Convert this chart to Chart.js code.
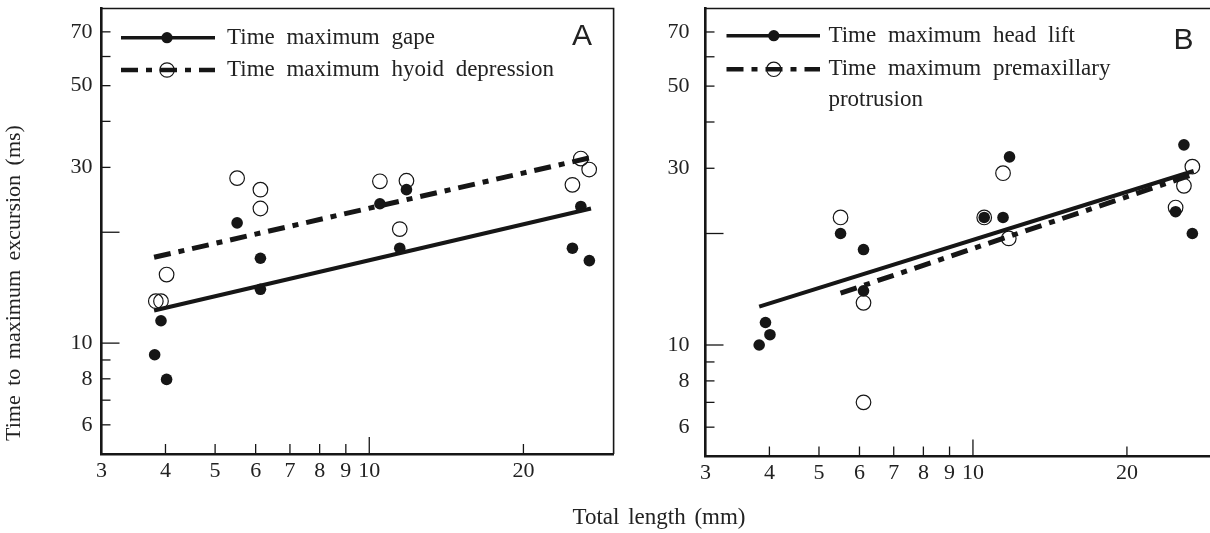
<!DOCTYPE html>
<html>
<head>
<meta charset="utf-8">
<script src="https://cdn.jsdelivr.net/npm/chart.js@4.4.1/dist/chart.umd.min.js"></script>
<style>
  html, body { margin: 0; padding: 0; background: #fff; overflow: hidden; }
  body { width: 1210px; height: 533px; position: relative; }
  canvas { position: absolute; top: 0; }
  #panelA { left: 0; }
  #panelB { left: 640px; }
  #xTitle {
    position: absolute; left: 0; width: 1318px; top: 505px;
    text-align: center; font: 23px "Liberation Serif", serif; line-height: 23px;
    color: #222; word-spacing: 3px;
  }
</style>
</head>
<body>
<canvas id="panelA" width="640" height="533"></canvas>
<canvas id="panelB" width="640" height="533"></canvas>
<div id="xTitle">Total length (mm)</div>
<script>
// ── Données ────────────────────────────────────────────────────────────────

// Panel A : gape (points pleins) et hyoid depression (cercles vides)
const lengthGapeA  = [3.81, 3.92, 4.02, 5.52, 6.13, 6.13, 10.49, 11.47, 11.82, 24.93, 25.89, 26.9];
const gapeA        = [9.3, 11.5, 7.97, 21.2, 17.0, 14.0, 23.9, 18.1, 26.1, 18.1, 23.5, 16.75];
const lengthHyoidA = [3.83, 3.92, 4.02, 5.52, 6.13, 6.13, 10.49, 11.47, 11.82, 24.93, 25.89, 26.88];
const hyoidA       = [13.0, 13.0, 15.35, 28.05, 26.1, 23.2, 27.5, 20.4, 27.6, 26.9, 31.7, 29.6];
const fitLengthA   = [3.80, 27.1];
const gapeFitA     = [12.26, 23.2];
const hyoidFitA    = [17.1, 31.9];

// Panel B : head lift (pleins) et premaxillary protrusion (vides)
const lengthLiftB   = [3.82, 3.93, 4.01, 5.51, 6.11, 6.11, 10.52, 11.45, 11.79, 24.9, 25.85, 26.85];
const liftB         = [10.0, 11.5, 10.66, 20.0, 18.1, 14.0, 22.1, 22.1, 32.2, 22.9, 34.7, 20.0];
const lengthPremaxB = [5.51, 6.11, 6.11, 10.52, 11.45, 11.75, 24.9, 25.85, 26.85];
const premaxB       = [22.1, 13.0, 7.0, 22.1, 29.1, 19.4, 23.5, 26.9, 30.3];
const liftFitX      = [3.82, 27.0];
const liftFitY      = [12.7, 29.5];
const premaxFitX    = [5.51, 27.0];
const premaxFitY    = [13.8, 28.9];

// Axes
const X_TICKS  = [3, 4, 5, 6, 7, 8, 9, 10, 20];
const X_LABELS = [3, 4, 5, 6, 7, 8, 9, 10, 20];
const Y_TICKS  = [6, 7, 8, 9, 10, 20, 30, 40, 50, 60, 70];
const Y_LABELS = [6, 8, 10, 30, 50, 70];
const Y_TITLE  = 'Time to maximum excursion (ms)';

const legendA = ['Time maximum gape', 'Time maximum hyoid depression'];
const legendB = ['Time maximum head lift', 'Time maximum premaxillary', 'protrusion'];

const INK  = '#161616';
const DASH = [17, 8, 6, 8];
const SERIF = '"Liberation Serif", "Times New Roman", serif';

Chart.defaults.font.family = SERIF;
Chart.defaults.color = '#222';

const pts = (xs, ys) => xs.map((x, i) => ({ x, y: ys[i] }));

// ── Décor : cadre, graduations internes, légende, lettre ──────────────────

function line(ctx, x1, y1, x2, y2) {
  ctx.beginPath(); ctx.moveTo(x1, y1); ctx.lineTo(x2, y2); ctx.stroke();
}

function spacing(ctx, px) {
  if ('wordSpacing' in ctx) ctx.wordSpacing = px + 'px';
}

const panelDecor = {
  id: 'panelDecor',
  afterDraw(chart, args, o) {
    const { ctx, chartArea: a, scales: { x, y } } = chart;
    ctx.save();
    ctx.strokeStyle = INK;

    // cadre haut / droite
    ctx.lineWidth = 1.6;
    ctx.beginPath();
    ctx.moveTo(a.left, a.top); ctx.lineTo(a.right, a.top); ctx.lineTo(a.right, a.bottom);
    ctx.stroke();

    // graduations vers l'intérieur
    ctx.lineWidth = 1.3;
    X_TICKS.forEach(v => {
      if (v <= x.min) return;
      const px = x.getPixelForValue(v);
      line(ctx, px, a.bottom, px, a.bottom - (v === 10 ? 17 : 10));
    });
    Y_TICKS.forEach(v => {
      const py = y.getPixelForValue(v);
      line(ctx, a.left, py, a.left + (v === 10 || v === 20 ? 18 : 9), py);
    });

    // légende
    const lg = o.legend;
    ctx.font = '23px ' + SERIF;
    ctx.textBaseline = 'alphabetic';
    spacing(ctx, lg.wordSpacing);
    lg.rows.forEach(r => {
      ctx.strokeStyle = INK;
      ctx.lineWidth = r.solid ? 3.4 : 4.6;
      ctx.setLineDash(r.solid ? [] : DASH);
      line(ctx, lg.x0, r.y, lg.x1, r.y);
      ctx.setLineDash([]);
      ctx.beginPath();
      if (r.filled) {
        ctx.arc(lg.mx, r.y, 5.6, 0, Math.PI * 2);
        ctx.fillStyle = INK; ctx.fill();
      } else {
        ctx.arc(lg.mx, r.y, 7.2, 0, Math.PI * 2);
        ctx.lineWidth = 1.2; ctx.stroke();
      }
      ctx.fillStyle = '#222';
      r.text.forEach((t, i) => ctx.fillText(t, lg.tx, r.y + 6 + i * lg.lineGap));
    });

    // titre de l'axe Y (panneau A seulement)
    if (o.yTitle) {
      ctx.save();
      ctx.translate(o.yTitle.x, o.yTitle.y);
      ctx.rotate(-Math.PI / 2);
      ctx.font = '22px ' + SERIF;
      ctx.textAlign = 'center';
      ctx.textBaseline = 'alphabetic';
      spacing(ctx, 4);
      ctx.fillText(Y_TITLE, 0, 0);
      ctx.restore();
    }
    spacing(ctx, 0);

    // lettre du panneau
    ctx.font = '30px "Liberation Sans", Arial, sans-serif';
    ctx.textAlign = 'center';
    ctx.fillStyle = '#222';
    ctx.fillText(o.letter, o.letterX, o.letterY);
    ctx.restore();
  }
};

// ── Construction d'un panneau ─────────────────────────────────────────────

function makePanel(id, cfg) {
  return new Chart(document.getElementById(id), {
    type: 'scatter',
    data: {
      datasets: [
        { data: pts(cfg.fitSolid[0], cfg.fitSolid[1]), showLine: true, borderColor: INK,
          borderWidth: 4, pointRadius: 0, borderCapStyle: 'butt' },
        { data: pts(cfg.fitDash[0], cfg.fitDash[1]), showLine: true, borderColor: INK,
          borderWidth: 5, borderDash: DASH, pointRadius: 0, borderCapStyle: 'butt' },
        { data: pts(cfg.filled[0], cfg.filled[1]), pointRadius: 5.8, borderWidth: 0,
          backgroundColor: INK },
        { data: pts(cfg.open[0], cfg.open[1]), pointRadius: 7.3, borderWidth: 1.2,
          borderColor: INK, backgroundColor: 'rgba(0,0,0,0)' },
      ],
    },
    options: {
      responsive: false, animation: false, events: [],
      layout: { padding: cfg.padding },
      plugins: {
        legend: { display: false },
        tooltip: { enabled: false },
        panelDecor: cfg.decor,
      },
      scales: {
        x: {
          type: 'logarithmic', min: 3, max: 30,
          afterBuildTicks: s => { s.ticks = X_TICKS.map(v => ({ value: v })); },
          afterFit: s => { s.height = cfg.xHeight; s.paddingLeft = 0; s.paddingRight = 0; },
          grid: { display: false, drawTicks: false },
          border: { display: true, color: INK, width: 2.6 },
          ticks: {
            autoSkip: false, maxRotation: 0, padding: 4, font: { size: 22 },
            callback: v => X_LABELS.includes(v) ? String(v) : '',
          },
        },
        y: {
          type: 'logarithmic', min: 5, max: 81,
          afterBuildTicks: s => { s.ticks = Y_TICKS.map(v => ({ value: v })); },
          afterFit: s => { s.width = cfg.yWidth; s.paddingTop = 0; s.paddingBottom = 0; },
          grid: { display: false, drawTicks: false },
          border: { display: true, color: INK, width: 2.6 },
          ticks: {
            autoSkip: false, padding: cfg.yPad, font: { size: 22 },
            callback: v => Y_LABELS.includes(v) ? String(v) : '',
          },
        },
      },
    },
    plugins: [panelDecor],
  });
}

makePanel('panelA', {
  fitSolid: [fitLengthA, gapeFitA],
  fitDash:  [fitLengthA, hyoidFitA],
  filled:   [lengthGapeA, gapeA],
  open:     [lengthHyoidA, hyoidA],
  padding:  { left: 0, right: 26.4, top: 5.5, bottom: 0 },
  xHeight: 79, yWidth: 101.5, yPad: 9,
  decor: {
    letter: 'A', letterX: 582, letterY: 45,
    yTitle: { x: 20, y: 283 },
    legend: {
      x0: 121, x1: 215, mx: 167, tx: 227, lineGap: 31, wordSpacing: 6,
      rows: [
        { text: [legendA[0]], solid: true,  filled: true,  y: 37.7 },
        { text: [legendA[1]], solid: false, filled: false, y: 70 },
      ],
    },
  },
});

makePanel('panelB', {
  fitSolid: [liftFitX, liftFitY],
  fitDash:  [premaxFitX, premaxFitY],
  filled:   [lengthLiftB, liftB],
  open:     [lengthPremaxB, premaxB],
  padding:  { left: 0, right: 63, top: 8, bottom: 0 },
  xHeight: 76.5, yWidth: 65.5, yPad: 16,
  decor: {
    letter: 'B', letterX: 543.6, letterY: 49,
    legend: {
      x0: 86.5, x1: 180, mx: 133.8, tx: 188.4, lineGap: 31, wordSpacing: 6,
      rows: [
        { text: [legendB[0]], solid: true,  filled: true,  y: 35.7 },
        { text: [legendB[1], legendB[2]], solid: false, filled: false, y: 69.3 },
      ],
    },
  },
});
</script>
</body>
</html>
